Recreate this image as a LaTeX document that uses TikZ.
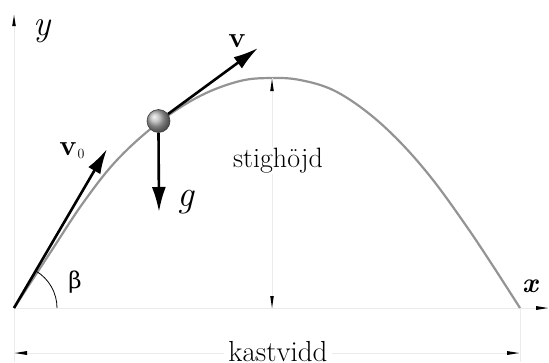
\documentclass[tikz,border=0pt]{standalone}
\usepackage{fontspec}
\newfontfamily\grk{DejaVu Serif}
\usetikzlibrary{arrows.meta}
\begin{document}
\begin{tikzpicture}[x=1pt,y=-1pt,
  faint/.style={draw=black!8,line width=0.6pt},
  vec/.style={line width=2.6pt,-{Latex[length=25pt,width=14pt]}},
  path/.style={draw=black!42,line width=2.2pt},
  txt/.style={font=\fontsize{28}{32}\selectfont,inner sep=1pt},
  lbl/.style={inner sep=0pt}]
\useasboundingbox (0,0) rectangle (549,362);
% coordinates
\coordinate (O) at (14,308);
\coordinate (ytop) at (14,15);
\coordinate (xend) at (548,308);
\coordinate (E) at (520,308);
\coordinate (A) at (272,78);
\coordinate (Ab) at (272,308);
\coordinate (dl) at (15,353);
\coordinate (dr) at (519,353);
\coordinate (extL) at (14,362);
\coordinate (extR) at (520,362);
\coordinate (vtip) at (258,48);
\coordinate (gtip) at (159,212);
\coordinate (v0tip) at (107,149);
% axes (faint)
\draw[faint] (O) -- (ytop);
\draw[faint] (O) -- (xend);
\fill (ytop) -- ++(-1.8,11) -- ++(3.6,0) -- cycle;
\fill (xend) -- ++(-12,-2) -- ++(0,4) -- cycle;
% extension lines
\draw[faint] (O) -- (extL);
\draw[faint] (E) -- (extR);
% trajectory
\draw[path] plot[smooth,tension=0.6] coordinates {(14,308) (50,253) (83,203) (117,160) (158,123) (200,96) (240,81) (272,78) (300,80) (333,90) (367,112) (400,142) (433,180) (467,227) (493,266) (520,308)};
% height dimension
\draw[faint] (A) -- (Ab);
\fill (272,79) -- ++(-1.8,12) -- ++(3.6,0) -- cycle;
\fill (272,308) -- ++(-1.8,-12) -- ++(3.6,0) -- cycle;
\node[txt,fill=white,anchor=base] (h) at (278,167) {stighöjd};
% range dimension
\draw[faint] (dl) -- (dr);
\fill (dl) -- ++(12,-2) -- ++(0,4) -- cycle;
\fill (dr) -- ++(-12,-2) -- ++(0,4) -- cycle;
\node[txt,fill=white,anchor=base,inner xsep=4pt,font=\fontsize{29}{32}\selectfont] (r) at (278,361) {kastvidd};
% angle
\draw[line width=0.8pt] (O) ++(43,0) arc[start angle=0,end angle=59.5,radius=43pt];
\node[lbl,font=\grk\fontsize{23}{26}\selectfont] (beta) at (75,282) {β};
% vectors
\draw[vec] (O) -- (v0tip);
\node[circle,minimum size=23pt,inner sep=0pt,ball color=black!30,draw=black!75,line width=0.6pt] (ball) at (158.5,121) {};
\draw[vec] (ball) -- (vtip);
\draw[vec] (ball.south) -- (gtip);
% labels
\node[lbl,font=\fontsize{36}{38}\selectfont\itshape] (ylab) at (42,31) {y};
\node[lbl,font=\fontsize{37}{38}\selectfont\itshape] (glab) at (186,202) {g};
\node[lbl,font=\fontsize{28}{30}\selectfont\bfseries\itshape] (xlab) at (530,286) {x};
\node[lbl,font=\fontsize{29}{32}\selectfont\bfseries] (vlab) at (237,41) {v};
\node[lbl,font=\fontsize{29}{32}\selectfont\bfseries,anchor=base] (v0lab) at (72,155) {v\kern1pt\textmd{\fontsize{14}{16}\selectfont\raisebox{-3pt}{0}}};
\end{tikzpicture}
\end{document}
